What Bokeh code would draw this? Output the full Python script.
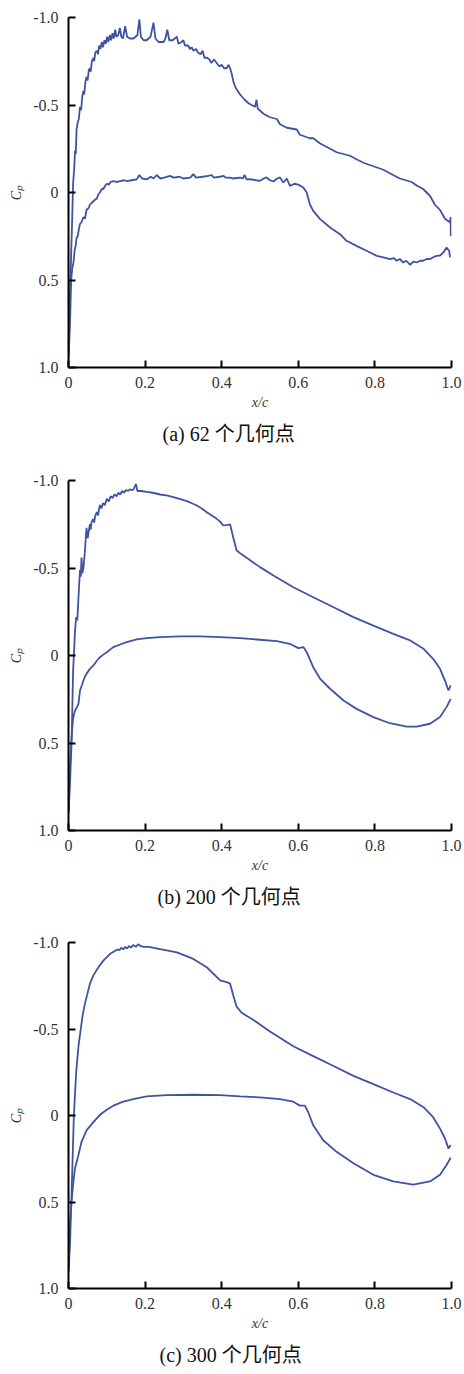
from bokeh.plotting import figure
from bokeh.models import Range1d, FixedTicker, Title
from bokeh.layouts import column
from bokeh.embed import file_html
from bokeh.resources import INLINE

# ---------------- data ----------------
x_ticks = [0, 0.2, 0.4, 0.6, 0.8, 1.0]
x_tick_labels = ["0", "0.2", "0.4", "0.6", "0.8", "1.0"]
y_ticks = [-1.0, -0.5, 0, 0.5, 1.0]
y_tick_labels = ["-1.0", "-0.5", "0", "0.5", "1.0"]
captions = ["(a) 62 个几何点", "(b) 200 个几何点", "(c) 300 个几何点"]

# (a) 62 points
a_upper_x = [0.000, 0.003, 0.006, 0.009, 0.012, 0.015, 0.017, 0.019, 0.021, 0.024, 0.027, 0.030,
             0.033, 0.036, 0.039, 0.041, 0.044, 0.047, 0.050, 0.053, 0.056, 0.058, 0.061, 0.065,
             0.067, 0.070, 0.074, 0.077, 0.080, 0.083, 0.087, 0.090, 0.094, 0.097, 0.101, 0.104,
             0.108, 0.111, 0.115, 0.118, 0.122, 0.125, 0.130, 0.134, 0.138, 0.142, 0.148, 0.153,
             0.160, 0.170, 0.180, 0.185, 0.189, 0.196, 0.204, 0.214, 0.222, 0.227, 0.235, 0.248,
             0.253, 0.258, 0.263, 0.272, 0.283, 0.287, 0.295, 0.300, 0.304, 0.312, 0.317, 0.322,
             0.326, 0.333, 0.338, 0.345, 0.350, 0.355, 0.362, 0.368, 0.373, 0.380, 0.387, 0.394,
             0.400, 0.406, 0.413, 0.418, 0.422, 0.426, 0.431, 0.436, 0.448, 0.460, 0.470, 0.478,
             0.487, 0.491, 0.494, 0.509, 0.526, 0.544, 0.552, 0.570, 0.596, 0.604, 0.630, 0.639,
             0.657, 0.683, 0.700, 0.735, 0.752, 0.770, 0.796, 0.822, 0.839, 0.865, 0.896, 0.909,
             0.926, 0.944, 0.957, 0.970, 0.983, 0.996, 0.998, 0.998]
a_upper_cp = [0.92, 0.62, 0.42, 0.20, -0.05, -0.14, -0.24, -0.22, -0.36, -0.40, -0.42, -0.49,
              -0.47, -0.55, -0.58, -0.56, -0.63, -0.66, -0.64, -0.70, -0.71, -0.69, -0.75, -0.77,
              -0.75, -0.80, -0.81, -0.79, -0.84, -0.82, -0.86, -0.83, -0.87, -0.85, -0.89, -0.86,
              -0.90, -0.87, -0.91, -0.88, -0.93, -0.89, -0.90, -0.94, -0.89, -0.88, -0.95, -0.89,
              -0.88, -0.88, -0.90, -0.99, -0.89, -0.87, -0.87, -0.89, -0.97, -0.88, -0.86, -0.86,
              -0.88, -0.93, -0.87, -0.87, -0.89, -0.85, -0.86, -0.87, -0.84, -0.84, -0.82, -0.83,
              -0.81, -0.82, -0.80, -0.79, -0.81, -0.77, -0.77, -0.76, -0.74, -0.76, -0.74, -0.72,
              -0.73, -0.71, -0.71, -0.73, -0.71, -0.68, -0.63, -0.60, -0.56, -0.53, -0.51, -0.50,
              -0.49, -0.53, -0.48, -0.45, -0.43, -0.42, -0.39, -0.37, -0.36, -0.33, -0.31, -0.31,
              -0.28, -0.25, -0.23, -0.21, -0.19, -0.17, -0.15, -0.13, -0.11, -0.08, -0.06, -0.04,
              -0.02, 0.02, 0.07, 0.10, 0.15, 0.17, 0.14, 0.25]
a_lower_x = [0.000, 0.004, 0.007, 0.010, 0.013, 0.016, 0.019, 0.021, 0.024, 0.027, 0.030, 0.034,
             0.039, 0.043, 0.047, 0.052, 0.056, 0.060, 0.065, 0.070, 0.074, 0.078, 0.082, 0.087,
             0.091, 0.096, 0.100, 0.105, 0.110, 0.117, 0.125, 0.135, 0.145, 0.152, 0.165, 0.178,
             0.185, 0.192, 0.204, 0.215, 0.222, 0.230, 0.240, 0.250, 0.265, 0.275, 0.290, 0.300,
             0.318, 0.326, 0.333, 0.350, 0.365, 0.373, 0.380, 0.395, 0.405, 0.410, 0.420, 0.430,
             0.448, 0.455, 0.460, 0.465, 0.474, 0.490, 0.500, 0.510, 0.517, 0.526, 0.535, 0.545,
             0.552, 0.561, 0.570, 0.578, 0.590, 0.600, 0.613, 0.622, 0.630, 0.639, 0.657, 0.683,
             0.709, 0.726, 0.752, 0.778, 0.805, 0.822, 0.839, 0.850, 0.857, 0.865, 0.874, 0.882,
             0.892, 0.900, 0.909, 0.918, 0.926, 0.935, 0.944, 0.952, 0.961, 0.970, 0.979, 0.987,
             0.994, 0.996]
a_lower_cp = [0.95, 0.75, 0.50, 0.43, 0.40, 0.33, 0.30, 0.26, 0.25, 0.21, 0.18, 0.17,
              0.14, 0.15, 0.10, 0.09, 0.07, 0.06, 0.05, 0.04, 0.035, 0.01, 0.00, -0.02,
              -0.02, -0.04, -0.05, -0.045, -0.06, -0.065, -0.06, -0.065, -0.07, -0.065, -0.07, -0.075,
              -0.10, -0.08, -0.075, -0.09, -0.08, -0.10, -0.08, -0.085, -0.095, -0.085, -0.09, -0.08,
              -0.085, -0.105, -0.085, -0.09, -0.095, -0.10, -0.085, -0.09, -0.095, -0.085, -0.085, -0.08,
              -0.085, -0.08, -0.10, -0.075, -0.076, -0.07, -0.067, -0.08, -0.086, -0.07, -0.063, -0.08,
              -0.086, -0.057, -0.08, -0.038, -0.05, -0.045, -0.029, 0.00, 0.067, 0.105, 0.152, 0.200,
              0.238, 0.276, 0.305, 0.333, 0.362, 0.371, 0.381, 0.375, 0.39, 0.38, 0.40, 0.39,
              0.413, 0.395, 0.40, 0.39, 0.39, 0.38, 0.381, 0.37, 0.362, 0.36, 0.343, 0.314,
              0.333, 0.371]

# (b) 200 points
b_upper_x = [0.000, 0.004, 0.008, 0.012, 0.017, 0.020, 0.023, 0.026, 0.030, 0.032, 0.034, 0.036,
             0.039, 0.043, 0.047, 0.050, 0.052, 0.056, 0.058, 0.060, 0.064, 0.067, 0.070, 0.074,
             0.077, 0.080, 0.082, 0.086, 0.090, 0.095, 0.100, 0.105, 0.110, 0.115, 0.120, 0.126,
             0.130, 0.135, 0.140, 0.145, 0.150, 0.156, 0.160, 0.165, 0.170, 0.176, 0.180, 0.190,
             0.204, 0.220, 0.239, 0.256, 0.274, 0.290, 0.309, 0.322, 0.335, 0.348, 0.361, 0.374,
             0.387, 0.396, 0.404, 0.412, 0.422, 0.430, 0.439, 0.452, 0.465, 0.500, 0.535, 0.587,
             0.639, 0.692, 0.744, 0.796, 0.848, 0.892, 0.927, 0.952, 0.970, 0.983, 0.992, 0.998]
b_upper_cp = [0.90, 0.73, 0.50, 0.09, -0.14, -0.22, -0.20, -0.33, -0.49, -0.45, -0.56, -0.47,
              -0.50, -0.60, -0.73, -0.67, -0.70, -0.75, -0.72, -0.76, -0.78, -0.76, -0.80, -0.82,
              -0.80, -0.84, -0.86, -0.84, -0.87, -0.86, -0.895, -0.88, -0.91, -0.90, -0.92, -0.91,
              -0.93, -0.92, -0.94, -0.93, -0.945, -0.94, -0.95, -0.945, -0.95, -0.98, -0.94, -0.94,
              -0.935, -0.93, -0.92, -0.915, -0.905, -0.895, -0.882, -0.87, -0.857, -0.84, -0.819, -0.80,
              -0.781, -0.765, -0.743, -0.745, -0.749, -0.676, -0.600, -0.578, -0.558, -0.505, -0.457, -0.390,
              -0.333, -0.276, -0.219, -0.171, -0.124, -0.086, -0.038, 0.019, 0.076, 0.143, 0.200, 0.171]
b_lower_x = [0.000, 0.004, 0.008, 0.012, 0.017, 0.021, 0.026, 0.030, 0.035, 0.039, 0.043, 0.047,
             0.056, 0.065, 0.074, 0.082, 0.091, 0.100, 0.117, 0.135, 0.152, 0.178, 0.204, 0.239,
             0.291, 0.343, 0.396, 0.448, 0.500, 0.544, 0.578, 0.600, 0.613, 0.622, 0.639, 0.657,
             0.683, 0.718, 0.752, 0.796, 0.839, 0.883, 0.909, 0.944, 0.970, 0.987, 0.998]
b_lower_cp = [0.90, 0.62, 0.467, 0.36, 0.314, 0.30, 0.276, 0.200, 0.17, 0.143, 0.12, 0.105,
              0.076, 0.057, 0.03, 0.010, -0.005, -0.019, -0.048, -0.063, -0.076, -0.092, -0.099, -0.105,
              -0.109, -0.109, -0.105, -0.099, -0.090, -0.082, -0.067, -0.042, -0.048, -0.019, 0.067, 0.133,
              0.190, 0.257, 0.305, 0.352, 0.387, 0.406, 0.406, 0.390, 0.352, 0.295, 0.248]

# (c) 300 points
c_upper_x = [0.000, 0.004, 0.008, 0.014, 0.020, 0.026, 0.032, 0.037, 0.043, 0.049, 0.056, 0.065,
             0.078, 0.091, 0.108, 0.122, 0.128, 0.133, 0.138, 0.143, 0.148, 0.153, 0.158, 0.163,
             0.169, 0.176, 0.182, 0.188, 0.195, 0.210, 0.239, 0.283, 0.326, 0.361, 0.396, 0.413,
             0.422, 0.430, 0.439, 0.452, 0.483, 0.526, 0.587, 0.639, 0.692, 0.744, 0.796, 0.848,
             0.892, 0.927, 0.952, 0.970, 0.983, 0.992, 0.998]
c_upper_cp = [0.90, 0.74, 0.46, 0.00, -0.25, -0.40, -0.50, -0.58, -0.648, -0.70, -0.762, -0.81,
              -0.857, -0.895, -0.933, -0.952, -0.96, -0.955, -0.97, -0.96, -0.975, -0.965, -0.98, -0.97,
              -0.985, -0.975, -0.99, -0.98, -0.975, -0.975, -0.962, -0.943, -0.905, -0.857, -0.781, -0.771,
              -0.762, -0.695, -0.629, -0.594, -0.552, -0.486, -0.400, -0.343, -0.286, -0.229, -0.181, -0.133,
              -0.095, -0.048, 0.010, 0.076, 0.133, 0.190, 0.171]
c_lower_x = [0.000, 0.004, 0.008, 0.012, 0.017, 0.026, 0.034, 0.047, 0.065, 0.082, 0.100, 0.117,
             0.143, 0.169, 0.204, 0.256, 0.326, 0.396, 0.448, 0.500, 0.552, 0.587, 0.604, 0.617,
             0.626, 0.639, 0.665, 0.700, 0.744, 0.796, 0.848, 0.900, 0.944, 0.970, 0.987, 0.998]
c_lower_cp = [0.90, 0.62, 0.495, 0.40, 0.305, 0.229, 0.152, 0.086, 0.038, -0.004, -0.033, -0.057,
              -0.080, -0.095, -0.110, -0.118, -0.120, -0.118, -0.110, -0.105, -0.095, -0.080, -0.057, -0.057,
              -0.019, 0.057, 0.143, 0.210, 0.276, 0.343, 0.381, 0.400, 0.381, 0.343, 0.286, 0.244]

LINE_COLOR = "#3f53a1"
SERIF = "Liberation Serif"


def make_panel(height, bottom, ux, uy, lx, ly, caption, cap_offset):
    p = figure(width=464, height=height, output_backend="svg", toolbar_location=None,
               x_range=Range1d(0, 1), y_range=Range1d(1.0, -1.0),
               min_border_left=68, min_border_right=13, min_border_top=17,
               min_border_bottom=bottom, x_axis_label="x/c", y_axis_label="Cₚ")
    p.outline_line_color = None
    p.grid.visible = False
    p.background_fill_color = "white"
    p.border_fill_color = "white"

    p.line(ux, uy, line_color=LINE_COLOR, line_width=1.8)
    p.line(lx, ly, line_color=LINE_COLOR, line_width=1.8)

    for ax in (p.xaxis[0], p.yaxis[0]):
        ax.axis_line_color = "black"
        ax.axis_line_width = 2
        ax.major_tick_line_color = "black"
        ax.major_tick_line_width = 2
        ax.major_tick_in = 7
        ax.major_tick_out = 0
        ax.minor_tick_line_color = None
        ax.major_label_text_font = SERIF
        ax.major_label_text_font_size = "16px"
        ax.major_label_text_color = "#333333"
        ax.axis_label_text_font = SERIF
        ax.axis_label_text_font_style = "italic"
        ax.axis_label_text_font_size = "14px"
        ax.axis_label_text_color = "#333333"

    p.xaxis[0].ticker = FixedTicker(ticks=x_ticks)
    p.xaxis[0].major_label_overrides = {t: s for t, s in zip(x_ticks, x_tick_labels)}
    p.xaxis[0].major_label_standoff = 9
    p.xaxis[0].axis_label_standoff = 4

    p.yaxis[0].ticker = FixedTicker(ticks=y_ticks)
    p.yaxis[0].major_label_overrides = {t: s for t, s in zip(y_ticks, y_tick_labels)}
    p.yaxis[0].major_label_standoff = 10
    p.yaxis[0].major_label_orientation = "horizontal"
    p.yaxis[0].axis_label_standoff = 6

    t = Title(text=caption, align="left", offset=cap_offset, standoff=17,
              text_font="Liberation Serif, Noto Sans CJK SC", text_font_size="20px",
              text_font_style="normal", text_color="#111111")
    p.add_layout(t, "below")
    return p


pa = make_panel(463, 96, a_upper_x, a_upper_cp, a_lower_x, a_lower_cp, captions[0], 94)
pb = make_panel(462, 95, b_upper_x, b_upper_cp, b_lower_x, b_lower_cp, captions[1], 89)
pc = make_panel(449, 82, c_upper_x, c_upper_cp, c_lower_x, c_lower_cp, captions[2], 91)

layout = column(pa, pb, pc, spacing=0)
open("out.html", "w").write(file_html(layout, INLINE))
